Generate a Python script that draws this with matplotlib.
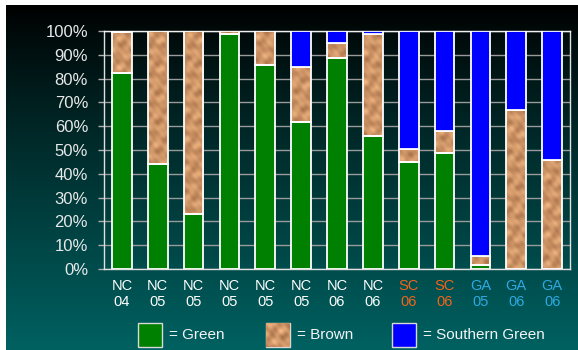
import matplotlib.pyplot as plt
import numpy as np
from matplotlib.patches import Rectangle

plt.rcParams['font.family'] = ['Liberation Sans', 'DejaVu Sans']

states = ["NC", "NC", "NC", "NC", "NC", "NC", "NC", "NC", "SC", "SC", "GA", "GA", "GA"]
years = ["04", "05", "05", "05", "05", "05", "06", "06", "06", "06", "05", "06", "06"]

# percent of stink bugs per sample
green = [82.2, 44.2, 23.0, 98.6, 85.7, 61.6, 88.7, 55.9, 45.1, 48.7, 1.5, 0.0, 0.0]
brown = [17.2, 55.8, 77.0, 1.4, 14.3, 23.4, 6.1, 43.0, 5.2, 9.2, 4.0, 66.8, 45.7]
southern = [0.6, 0.0, 0.0, 0.0, 0.0, 15.0, 5.2, 1.1, 49.7, 42.1, 94.5, 33.2, 54.3]

state_colors = {"NC": "#ffffff", "SC": "#f26419", "GA": "#2fa9e0"}
GREEN = "#008000"
BLUE = "#0000ff"
BROWN = "#c98f60"


def cork_texture(h, w):
    # mottled tan pattern built from a few crossed waves
    yy, xx = np.mgrid[0:h, 0:w].astype(float)
    t = (np.sin(0.45 * xx + 0.2 * yy) + np.sin(0.18 * xx - 0.42 * yy + 1.3)
         + 1.2 * np.sin(0.3 * xx + 0.55 * yy + 2.1) * np.sin(0.11 * yy - 0.16 * xx)
         + 0.5 * np.sin(0.85 * xx - 0.65 * yy + 0.7))
    t = t / np.abs(t).max()
    base = np.array([205, 148, 102]) / 255.0
    amp = np.array([38, 36, 30]) / 255.0
    img = base[None, None, :] + t[..., None] * amp[None, None, :]
    return np.clip(img, 0, 1)


W, H = 578, 350
fig = plt.figure(figsize=(W / 100, H / 100), dpi=100)
fig.patch.set_facecolor("white")

# dark-to-teal backdrop
bg = fig.add_axes([6 / W, 0, 1 - 6 / W, 1 - 5 / H])
grad = np.linspace(0, 1, 256)[:, None] ** 0.9
bg_rgb = np.stack([grad * 0.0, grad * 0.38, grad * 0.38], axis=-1) * np.ones((1, 2, 1))
bg.imshow(bg_rgb, aspect="auto", extent=(0, 1, 0, 1), origin="upper")
bg.axis("off")

ax = fig.add_axes([104 / W, 1 - 269 / H, (570 - 104) / W, (269 - 31) / H])
ax.set_facecolor("none")

x = np.arange(len(green))
width = 0.55
tex = cork_texture(238, 466)

bottom = np.zeros(len(x))
for vals, color in [(green, GREEN), (brown, BROWN), (southern, BLUE)]:
    vals = np.array(vals)
    for i in x:
        if vals[i] <= 0:
            continue
        bar = ax.bar(i, vals[i], width, bottom=bottom[i], color=color,
                     edgecolor="white", linewidth=1.3, zorder=3)[0]
        if color == BROWN:
            bar.set_facecolor("none")
            im = ax.imshow(tex, extent=(-0.5, len(x) - 0.5, 0, 100),
                           aspect="auto", zorder=2.9, interpolation="bilinear")
            im.set_clip_path(bar)
    bottom += vals

ax.set_xlim(-0.5, len(x) - 0.5)
ax.set_ylim(0, 100)
ax.set_yticks(np.arange(0, 101, 10))
ax.set_yticklabels([f"{v}%" for v in range(0, 101, 10)])
ax.tick_params(axis="y", colors="#b0b0b0", length=4.5, width=1, pad=7,
               labelsize=12, labelcolor="#e8e8e8")
ax.set_xticks(x)
ax.set_xticklabels([f"{s}\n{y}" for s, y in zip(states, years)])
ax.tick_params(axis="x", length=0, pad=7, labelsize=10.5)
for lbl, s in zip(ax.get_xticklabels(), states):
    lbl.set_color(state_colors[s])

ax.grid(axis="y", color="#9a9a9a", linewidth=1, zorder=1)
for side in ["left", "bottom", "right", "top"]:
    ax.spines[side].set_color("#e0e0e0")
    ax.spines[side].set_linewidth(1)
ax.spines["top"].set_color("#f0f0f0")

# legend boxes along the bottom
legend_items = [(138, GREEN, "= Green"), (266, BROWN, "= Brown"), (392, BLUE, "= Southern Green")]
for px, color, label in legend_items:
    r = Rectangle((px / W, 1 - 347 / H), 24 / W, 24 / H, transform=fig.transFigure,
                  facecolor=color, edgecolor="#d8d8d8", linewidth=1)
    fig.add_artist(r)
    if color == BROWN:
        im = fig.figimage(cork_texture(24, 24), xo=px, yo=H - 347, zorder=3)
        im.set_clip_path(r)
    fig.text((px + 31) / W, 1 - 335 / H, label, color="#f4f4f4", fontsize=11,
             va="center", ha="left")

fig.savefig("out.png", dpi=100, facecolor=fig.get_facecolor())
